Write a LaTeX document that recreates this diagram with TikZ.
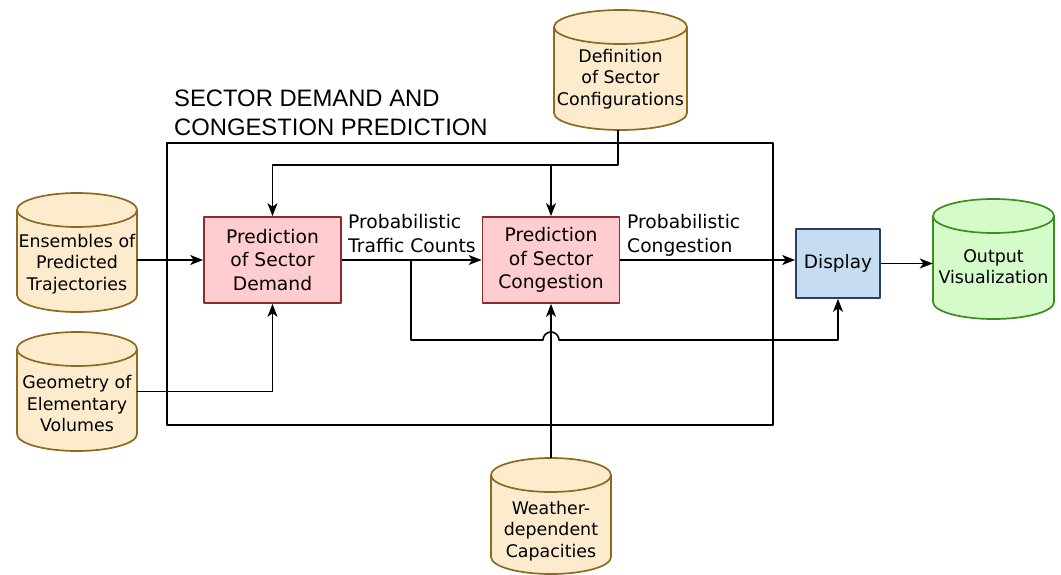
\documentclass[tikz,border=0pt]{standalone}
\usepackage{fontspec}
\setmainfont{DejaVu Sans}
\newfontfamily\arialf{Liberation Sans}
\usetikzlibrary{arrows.meta,calc}
\definecolor{orfill}{HTML}{FCEBCD}
\definecolor{ordraw}{HTML}{8C6A22}
\definecolor{pkfill}{HTML}{FFCCD0}
\definecolor{pkdraw}{HTML}{8B2C2C}
\definecolor{blfill}{HTML}{C6DCF0}
\definecolor{bldraw}{HTML}{2B3F66}
\definecolor{grfill}{HTML}{D5FBCB}
\definecolor{grdraw}{HTML}{3D8C1E}
\newcommand\mycyl[7]{%
  \pgfmathsetmacro\cylrx{(#3-#2)/2}%
  \pgfmathsetmacro\cylcx{(#3+#2)/2}%
  \pgfmathsetmacro\cylcy{-(#4+#5)/2}%
  \draw[fill=#6,draw=#7,line width=1.7pt] (#2,-#4-17) -- (#2,-#5+17)
     arc[start angle=180,end angle=360,x radius=\cylrx,y radius=17] -- (#3,-#4-17)
     arc[start angle=0,end angle=180,x radius=\cylrx,y radius=17] -- cycle;
  \draw[draw=#7,line width=1.7pt] (#2,-#4-17)
     arc[start angle=180,end angle=360,x radius=\cylrx,y radius=17];
  \node[minimum width={#3-#2}, minimum height={#5-#4}, inner sep=0pt] (#1) at (\cylcx,\cylcy) {};
}
\begin{document}
\begin{tikzpicture}[x=1pt,y=1pt,line join=round,
  conn/.style={line width=1.6pt,-{Stealth[length=13pt,width=10pt,inset=3.5pt]}},
  procbox/.style={draw=pkdraw,fill=pkfill,line width=1.7pt,minimum width=137pt,minimum height=86pt,
     inner sep=0pt,align=center,font=\fontsize{18.7pt}{23.5pt}\selectfont},
  dispbox/.style={draw=bldraw,fill=blfill,line width=1.7pt,minimum width=84pt,minimum height=69pt,
     inner sep=0pt,align=center,font=\fontsize{18.5pt}{23pt}\selectfont},
  cyltext/.style={inner sep=0pt,align=center,font=\fontsize{17.4pt}{21.5pt}\selectfont},
  lbl/.style={anchor=north west,inner sep=0pt,align=left,font=\fontsize{18.7pt}{24pt}\selectfont},
]
\useasboundingbox (0,0) rectangle (1061,-575);

% frame and title
\node[draw,line width=1.6pt,minimum width=606pt,minimum height=282pt,inner sep=0pt] (frame) at (470,-284) {};
\node[anchor=north west,inner sep=0pt,align=left,font=\arialf\fontsize{23.8pt}{29pt}\selectfont] (title)
  at (174,-90) {SECTOR DEMAND AND\\CONGESTION PREDICTION};

% cylinders
\mycyl{ens}{17}{137}{193}{312}{orfill}{ordraw}
\node[cyltext] (enst) at (77,-264) {Ensembles of\\Predicted\\Trajectories};
\mycyl{geo}{17}{137}{332}{451}{orfill}{ordraw}
\node[cyltext] (geot) at (77,-404) {Geometry of\\Elementary\\Volumes};
\mycyl{def}{554}{687}{10}{130}{orfill}{ordraw}
\node[cyltext] (deft) at (620.5,-79) {Definition\\of Sector\\Configurations};
\mycyl{wea}{491}{611}{458}{574}{orfill}{ordraw}
\node[cyltext] (weat) at (551,-531) {Weather-\\dependent\\Capacities};
\mycyl{out}{933}{1054}{199}{319}{grfill}{grdraw}
\node[cyltext] (outt) at (993.5,-266.5) {Output\\Visualization};

% process boxes
\node[procbox] (d1) at (272.5,-260) {Prediction\\of Sector\\Demand};
\node[procbox] (d2) at (551,-260) {Prediction\\of Sector\\Congestion};
\node[dispbox] (disp) at (838,-263.5) {Display};

% labels
\node[lbl] (l1) at (348,-214.5) {Probabilistic\\Traffic Counts};
\node[lbl] (l2) at (627,-214.5) {Probabilistic\\Congestion};

% connectors
\draw[conn] (ens.east |- d1.west) -- (d1.west);
\draw[conn] (geo.east) -| (d1.south);
\coordinate (j1) at (618,-165);
\draw[conn] (def.south -| j1) -- (j1) -| (d1.north);
\draw[conn] (d2.north |- j1) -- (d2.north);
\draw[conn] (wea.north) -- (d2.south);
\draw[conn] (d1.east) -- (d2.west);
\coordinate (br) at (411,-340);
\draw[conn] (d1.east -| br) -- (br) -- ($(br -| d2.south)+(-8,0)$)
   arc[start angle=180,end angle=0,radius=8] -- (br -| disp.south) -- (disp.south);
\draw[conn] (d2.east) -- (d2.east -| disp.west);
\draw[conn] (disp.east) -- (disp.east -| out.west);
\end{tikzpicture}
\end{document}
